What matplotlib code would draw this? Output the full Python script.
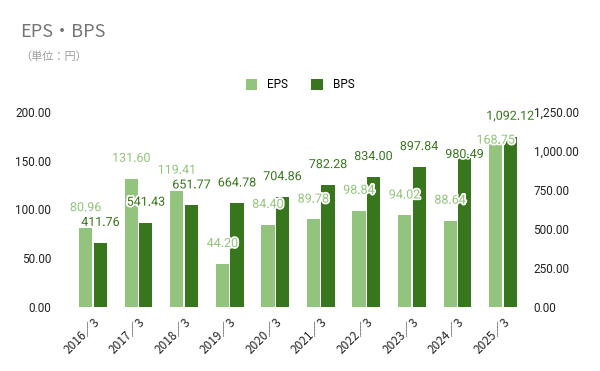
import numpy as np
import matplotlib
matplotlib.use("Agg")
import matplotlib.pyplot as plt
import matplotlib.patheffects as pe

plt.rcParams['font.family'] = ['Roboto', 'Noto Sans CJK JP', 'DejaVu Sans']

# data
years = ["2016／3", "2017／3", "2018／3", "2019／3", "2020／3",
         "2021／3", "2022／3", "2023／3", "2024／3", "2025／3"]
eps = [80.96, 131.60, 119.41, 44.20, 84.40, 89.78, 98.84, 94.02, 88.64, 168.75]
bps = [411.76, 541.43, 651.77, 664.78, 704.86, 782.28, 834.00, 897.84, 980.49, 1092.12]

eps_color = "#93c47d"
bps_color = "#38761d"

fig = plt.figure(figsize=(6.0, 3.71), dpi=100)
ax = fig.add_axes([68 / 600, 64 / 371, 460 / 600, 195 / 371])
ax2 = ax.twinx()

x = np.arange(len(years))
w = 0.29
gap = 0.03

b1 = ax.bar(x - w / 2 - gap / 2, eps, w, color=eps_color, label="EPS")
b2 = ax2.bar(x + w / 2 + gap / 2, bps, w, color=bps_color, label="BPS")

ax.set_ylim(0, 200)
ax2.set_ylim(0, 1250)
ax.set_xlim(-0.55, len(years) - 0.45)
ax.set_yticks([0, 50, 100, 150, 200])
ax2.set_yticks([0, 250, 500, 750, 1000, 1250])
ax.set_yticklabels([f"{v:,.2f}" for v in [0, 50, 100, 150, 200]])
ax2.set_yticklabels([f"{v:,.2f}" for v in [0, 250, 500, 750, 1000, 1250]])

for a in (ax, ax2):
    for s in a.spines.values():
        s.set_visible(False)
    a.tick_params(length=0, labelsize=8.5, colors="#222222")
ax.tick_params(axis='y', pad=12)
ax2.tick_params(axis='y', pad=4)

ax.set_xticks(x)
ax.set_xticklabels(years, rotation=45, ha="right", rotation_mode="anchor",
                   fontsize=8.5, family=['Noto Sans CJK JP', 'DejaVu Sans'])
ax.tick_params(axis='x', pad=6)

# labels drawn on the twin axes so they sit above both sets of bars
# a couple of labels near the top right are tucked down to avoid colliding
halo = [pe.withStroke(linewidth=2.5, foreground="white")]
eps_dy = {9: -3}
bps_dy = {8: -5}
for i, (xi, v) in enumerate(zip(x - w / 2 - gap / 2, eps)):
    ax2.annotate(f"{v:,.2f}", (xi, v), xycoords=ax.transData,
                 xytext=(0, eps_dy.get(i, 10)), textcoords="offset points",
                 ha="center", va="bottom", fontsize=9, color=eps_color,
                 path_effects=halo, zorder=5)
for i, (xi, v) in enumerate(zip(x + w / 2 + gap / 2, bps)):
    ax2.annotate(f"{v:,.2f}", (xi, v), xytext=(0, bps_dy.get(i, 10)),
                 textcoords="offset points", ha="center", va="bottom", fontsize=9,
                 color=bps_color, path_effects=halo, zorder=6)

fig.text(20 / 600, 1 - 32 / 371, "EPS・BPS", fontsize=13, color="#757575",
         va="center", ha="left", family=['Noto Sans CJK JP', 'DejaVu Sans'])
fig.text(20 / 600, 1 - 57 / 371, "（単位：円）", fontsize=8, color="#9e9e9e",
         va="center", ha="left", family=['Noto Sans CJK JP', 'DejaVu Sans'])

fig.legend(handles=[b1, b2], labels=["EPS", "BPS"], loc="center",
           bbox_to_anchor=(0.5, 1 - 85 / 371), ncol=2, frameon=False,
           fontsize=8.5, handlelength=1.0, handleheight=1.0, columnspacing=2.0,
           handletextpad=0.8)

fig.savefig("out.png", dpi=100)
